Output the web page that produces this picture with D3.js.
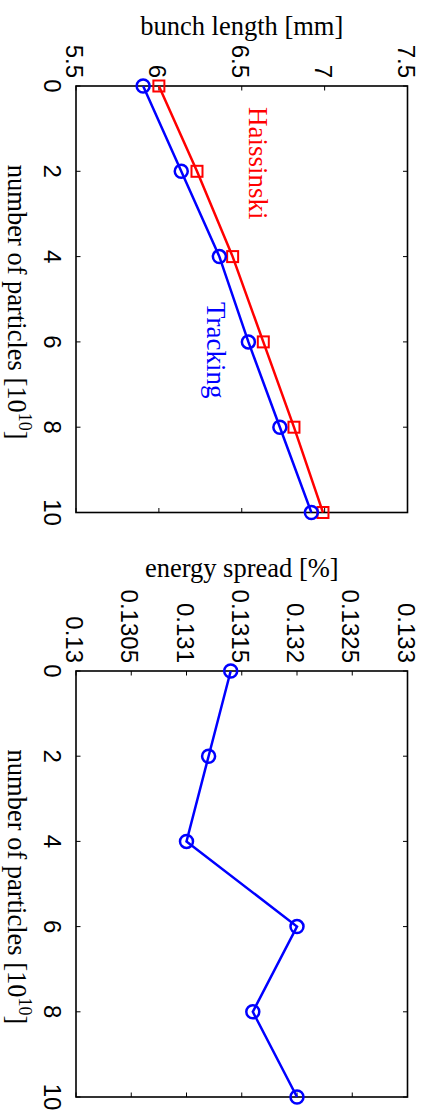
<!DOCTYPE html>
<html>
<head>
<meta charset="utf-8">
<script src="https://cdn.jsdelivr.net/npm/d3@7"></script>
<style>
html,body{margin:0;padding:0;background:#fff;}
svg{display:block;}
</style>
</head>
<body>
<script>
// ---- data ----
const particles = [0, 2, 4, 6, 8, 10];
const haissinski = [6.00, 6.23, 6.445, 6.63, 6.815, 6.99];
const tracking = [5.905, 6.135, 6.365, 6.54, 6.73, 6.92];
const energySpread = [0.13140, 0.13120, 0.13100, 0.13200, 0.13160, 0.13200];
const xTicks = [0, 2, 4, 6, 8, 10];
const bunchTicks = [5.5, 6, 6.5, 7, 7.5];
const spreadTicks = [0.13, 0.1305, 0.131, 0.1315, 0.132, 0.1325, 0.133];

const W = 428, H = 1117;
const svg = d3.select("body").append("svg").attr("width", W).attr("height", H);
// whole figure is drawn in landscape frame (1117 x 428) and rotated 90° clockwise
const g = svg.append("g").attr("transform", `translate(${W},0) rotate(90)`);

const tickFont = "'Liberation Sans', Arial, sans-serif";
const serif = "'Liberation Serif', 'Times New Roman', serif";

function panel(x0, x1, yDomain, yTicks, yLabel, yFmt) {
  const top = 20.5, bottom = 352;
  const x = d3.scaleLinear().domain([0, 10]).range([x0, x1]);
  const y = d3.scaleLinear().domain(yDomain).range([bottom, top]);
  const p = g.append("g");
  // frame
  p.append("rect").attr("x", x0).attr("y", top).attr("width", x1 - x0).attr("height", bottom - top)
    .attr("fill", "none").attr("stroke", "#000").attr("stroke-width", 1.6);
  const tl = 4.5;
  // x ticks (inward, both sides)
  xTicks.forEach(t => {
    p.append("line").attr("x1", x(t)).attr("x2", x(t)).attr("y1", bottom).attr("y2", bottom - tl).attr("stroke", "#000").attr("stroke-width", 1);
    p.append("line").attr("x1", x(t)).attr("x2", x(t)).attr("y1", top).attr("y2", top + tl).attr("stroke", "#000").attr("stroke-width", 1);
    p.append("text").attr("x", x(t)).attr("y", 384).attr("text-anchor", "middle")
      .attr("font-family", tickFont).attr("font-size", 24).text(t);
  });
  yTicks.forEach(t => {
    p.append("line").attr("x1", x0).attr("x2", x0 + tl).attr("y1", y(t)).attr("y2", y(t)).attr("stroke", "#000").attr("stroke-width", 1);
    p.append("line").attr("x1", x1).attr("x2", x1 - tl).attr("y1", y(t)).attr("y2", y(t)).attr("stroke", "#000").attr("stroke-width", 1);
    p.append("text").attr("x", x0 - 8).attr("y", y(t) + 10).attr("text-anchor", "end")
      .attr("font-family", tickFont).attr("font-size", 24).text(yFmt(t));
  });
  // x label
  const xl = p.append("text").attr("x", (x0 + x1) / 2 + 3).attr("y", 420).attr("text-anchor", "middle")
    .attr("font-family", serif).attr("font-size", 26.5);
  xl.append("tspan").text("number of particles [10");
  xl.append("tspan").attr("font-size", 18).attr("dy", -11).text("10");
  xl.append("tspan").attr("dy", 11).text("]");
  // y label
  p.append("text").attr("transform", `translate(${x0 === 86 ? 35 : 577},${(top + bottom) / 2}) rotate(-90)`)
    .attr("text-anchor", "middle").attr("font-family", serif).attr("font-size", 26.5).text(yLabel);
  return {x, y, p};
}

const fmt = d => String(d);

// ---- left panel: bunch length ----
const A = panel(86, 512.5, [5.5, 7.5], bunchTicks, "bunch length [mm]", fmt);
const lineA = d3.line().x((d, i) => A.x(particles[i])).y(d => A.y(d));
A.p.append("path").datum(haissinski).attr("d", lineA).attr("fill", "none").attr("stroke", "#ff0000").attr("stroke-width", 2.5);
A.p.append("path").datum(tracking).attr("d", lineA).attr("fill", "none").attr("stroke", "#0000ff").attr("stroke-width", 2.5);
A.p.selectAll(".sq").data(haissinski).enter().append("rect")
  .attr("x", (d, i) => A.x(particles[i]) - 5.5).attr("y", d => A.y(d) - 5.5)
  .attr("width", 11).attr("height", 11).attr("fill", "none").attr("stroke", "#ff0000").attr("stroke-width", 2);
A.p.selectAll(".ci").data(tracking).enter().append("circle")
  .attr("cx", (d, i) => A.x(particles[i])).attr("cy", d => A.y(d)).attr("r", 6.5)
  .attr("fill", "none").attr("stroke", "#0000ff").attr("stroke-width", 2.5);
A.p.append("text").attr("x", 107).attr("y", 179).attr("font-family", serif).attr("font-size", 27)
  .attr("fill", "#ff0000").text("Haissinski");
A.p.append("text").attr("x", 302).attr("y", 221).attr("font-family", serif).attr("font-size", 27)
  .attr("fill", "#0000ff").text("Tracking");

// ---- right panel: energy spread ----
const B = panel(671, 1097, [0.13, 0.133], spreadTicks, "energy spread [%]", fmt);
const lineB = d3.line().x((d, i) => B.x(particles[i])).y(d => B.y(d));
B.p.append("path").datum(energySpread).attr("d", lineB).attr("fill", "none").attr("stroke", "#0000ff").attr("stroke-width", 2.5);
B.p.selectAll(".ci").data(energySpread).enter().append("circle")
  .attr("cx", (d, i) => B.x(particles[i])).attr("cy", d => B.y(d)).attr("r", 6.5)
  .attr("fill", "none").attr("stroke", "#0000ff").attr("stroke-width", 2.5);
</script>
</body>
</html>
